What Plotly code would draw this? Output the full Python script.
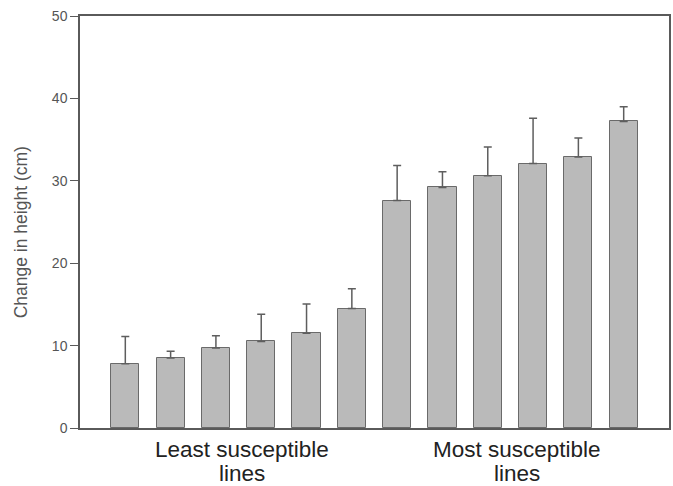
import plotly.graph_objects as go

# Data
line_index = list(range(12))
mean_change = [7.8, 8.5, 9.7, 10.5, 11.5, 14.5, 27.6, 29.2, 30.6, 32.1, 32.9, 37.2]
error_upper = [3.3, 0.8, 1.5, 3.3, 3.55, 2.4, 4.25, 1.9, 3.5, 5.5, 2.3, 1.8]
group_labels = ["Least susceptible", "Most susceptible"]
group_sublabel = "lines"
group_centers = [2.57, 8.65]
y_ticks = [0, 10, 20, 30, 40, 50]
y_title = "Change in height (cm)"

FONT = "Liberation Sans, Arial, Helvetica, sans-serif"
AXIS_COLOR = "#5a5a5a"

fig = go.Figure()
fig.add_trace(go.Bar(
    x=line_index,
    y=mean_change,
    width=0.62,
    marker=dict(color="#bababa", line=dict(color="#6a6a6a", width=1)),
    error_y=dict(type="data", array=error_upper, symmetric=False,
                 arrayminus=[0] * len(error_upper),
                 color="#5e5e5e", thickness=1.5, width=4),
    showlegend=False,
))

annotations = []
for label, cx in zip(group_labels, group_centers):
    annotations.append(dict(x=cx, xref="x", y=0, yref="paper", yshift=-21,
                            text=label, showarrow=False, yanchor="middle",
                            xanchor="center",
                            font=dict(family=FONT, size=22.5, color="#222222")))
    annotations.append(dict(x=cx, xref="x", y=0, yref="paper", yshift=-45,
                            text=group_sublabel, showarrow=False, yanchor="middle",
                            xanchor="center",
                            font=dict(family=FONT, size=22.5, color="#222222")))
annotations.append(dict(x=0, xref="paper", xshift=-59, y=0.475, yref="paper",
                        text=y_title, showarrow=False, textangle=-90,
                        xanchor="center", yanchor="middle",
                        font=dict(family=FONT, size=17.5, color="#555555")))

fig.update_layout(
    width=673, height=486,
    margin=dict(l=80, r=2, t=16, b=57.5, pad=0),
    plot_bgcolor="white", paper_bgcolor="white",
    font=dict(family=FONT, color="#555555"),
    bargap=0,
    annotations=annotations,
    xaxis=dict(range=[-1, 12], showticklabels=False, ticks="",
               showgrid=False, zeroline=False, showline=True,
               linecolor=AXIS_COLOR, linewidth=1.5, mirror=True),
    yaxis=dict(range=[0, 50], tickvals=y_ticks, ticks="outside", ticklen=8,
               tickcolor=AXIS_COLOR, tickwidth=1.2,
               tickfont=dict(family=FONT, size=14, color="#555555"),
               showgrid=False, zeroline=False, showline=True,
               linecolor=AXIS_COLOR, linewidth=1.5, mirror=True),
)

fig.write_html("out.html",
               config={"displayModeBar": False},
               post_script="document.body.style.margin='0';document.body.style.overflow='hidden';")
